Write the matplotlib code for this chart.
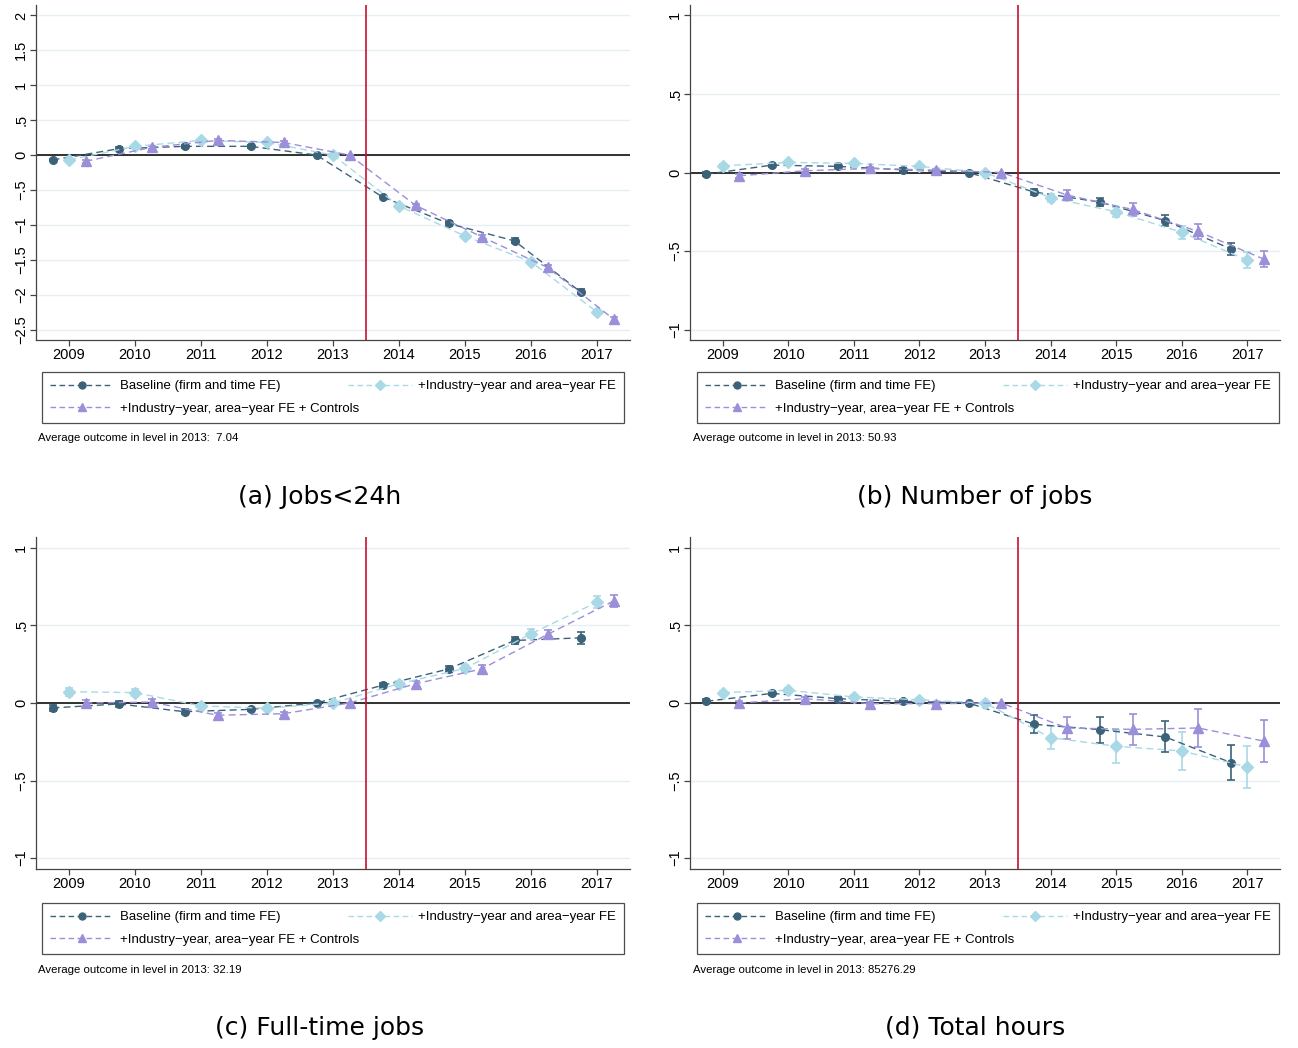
import matplotlib
matplotlib.use('Agg')
import matplotlib.pyplot as plt
from matplotlib.lines import Line2D
import numpy as np

plt.rcParams['font.family'] = ['Liberation Sans', 'DejaVu Sans']

# Años del estudio de eventos (2013 es el año de referencia)
years = [2009, 2010, 2011, 2012, 2013, 2014, 2015, 2016, 2017]

# (a) Jobs<24h
jobs24_base = [-0.07, 0.09, 0.125, 0.125, 0.0, -0.60, -0.98, -1.23, -1.96]
jobs24_base_ci = [0.02, 0.02, 0.02, 0.02, 0.0, 0.02, 0.03, 0.035, 0.035]
jobs24_ind = [-0.07, 0.125, 0.21, 0.18, 0.0, -0.73, -1.16, -1.53, -2.25]
jobs24_ind_ci = [0.02, 0.02, 0.02, 0.02, 0.0, 0.025, 0.03, 0.035, 0.035]
jobs24_ctrl = [-0.09, 0.11, 0.21, 0.18, 0.0, -0.72, -1.17, -1.61, -2.35]
jobs24_ctrl_ci = [0.02, 0.02, 0.02, 0.02, 0.0, 0.025, 0.03, 0.035, 0.035]

# (b) Number of jobs
njobs_base = [-0.011, 0.047, 0.039, 0.017, 0.0, -0.124, -0.188, -0.306, -0.486]
njobs_base_ci = [0.012, 0.01, 0.01, 0.01, 0.0, 0.02, 0.025, 0.035, 0.04]
njobs_ind = [0.043, 0.064, 0.058, 0.039, 0.0, -0.16, -0.25, -0.38, -0.557]
njobs_ind_ci = [0.012, 0.01, 0.01, 0.01, 0.0, 0.025, 0.03, 0.04, 0.05]
njobs_ctrl = [-0.021, 0.011, 0.026, 0.015, 0.0, -0.143, -0.235, -0.375, -0.55]
njobs_ctrl_ci = [0.012, 0.01, 0.01, 0.01, 0.0, 0.03, 0.04, 0.045, 0.05]

# (c) Full-time jobs
ft_base = [-0.032, -0.006, -0.056, -0.041, 0.0, 0.114, 0.219, 0.403, 0.42]
ft_base_ci = [0.02, 0.02, 0.015, 0.01, 0.0, 0.015, 0.02, 0.025, 0.04]
ft_ind = [0.073, 0.067, -0.019, -0.034, 0.0, 0.124, 0.223, 0.446, 0.65]
ft_ind_ci = [0.025, 0.025, 0.015, 0.01, 0.0, 0.015, 0.02, 0.03, 0.04]
ft_ctrl = [0.0, 0.006, -0.079, -0.069, 0.0, 0.124, 0.219, 0.442, 0.657]
ft_ctrl_ci = [0.02, 0.02, 0.015, 0.01, 0.0, 0.02, 0.025, 0.03, 0.04]

# (d) Total hours
hours_base = [0.011, 0.062, 0.028, 0.011, 0.0, -0.137, -0.172, -0.219, -0.384]
hours_base_ci = [0.012, 0.012, 0.012, 0.01, 0.0, 0.058, 0.083, 0.10, 0.113]
hours_ind = [0.067, 0.082, 0.039, 0.021, 0.0, -0.223, -0.279, -0.309, -0.412]
hours_ind_ci = [0.012, 0.012, 0.012, 0.01, 0.0, 0.074, 0.106, 0.123, 0.135]
hours_ctrl = [0.0, 0.028, -0.004, -0.004, 0.0, -0.161, -0.17, -0.161, -0.245]
hours_ctrl_ci = [0.012, 0.012, 0.012, 0.01, 0.0, 0.073, 0.102, 0.12, 0.138]

series_labels = ['Baseline (firm and time FE)',
                 '+Industry\u2212year and area\u2212year FE',
                 '+Industry\u2212year, area\u2212year FE + Controls']
captions = ['(a) Jobs<24h', '(b) Number of jobs', '(c) Full-time jobs', '(d) Total hours']
notes = ['Average outcome in level in 2013:  7.04',
         'Average outcome in level in 2013: 50.93',
         'Average outcome in level in 2013: 32.19',
         'Average outcome in level in 2013: 85276.29']

colores = ['#3c6279', '#a9d9e6', '#9b8fd9']
marcadores = ['o', 'D', '^']
tam_marcador = [5.5, 6, 6.5]
desplazamiento = [-0.25, 0.0, 0.25]

W, H = 1298, 1048


def rect(l, t, r, b):
    # convierte un rectangulo en pixeles a coordenadas de figura
    return [l / W, 1 - b / H, (r - l) / W, (b - t) / H]


def fmt_tick(v):
    # formato tipo Stata: .5, -.5, 1.5 ...
    s = ('%g' % abs(v))
    if s.startswith('0.'):
        s = s[1:]
    if v < 0:
        s = '\u2212' + s
    return s


def dibujar_panel(fig, pos, datos, yticks, ylim, caption, note, legend_box, note_xy, cap_xy):
    ax = fig.add_axes(rect(*pos))
    for yt in yticks:
        ax.axhline(yt, color='#e6eff2', lw=1.0, zorder=0)
    ax.axhline(0, color='#222222', lw=1.3, zorder=1)
    ax.axvline(2013.5, color='#c8102e', lw=1.2, zorder=4)

    x = np.array(years, dtype=float)
    for i, (vals, ci) in enumerate(datos):
        ax.errorbar(x + desplazamiento[i], vals, yerr=ci, color=colores[i], ecolor=colores[i],
                    marker=marcadores[i], markersize=tam_marcador[i],
                    linestyle=(0, (5, 3)), lw=1.0, elinewidth=1.2, capsize=3.2, capthick=1.2,
                    zorder=3)

    ax.set_xlim(2008.5, 2017.5)
    ax.set_ylim(*ylim)
    ax.set_xticks(years)
    ax.set_xticklabels([str(y) for y in years], fontsize=10.5)
    ax.set_yticks(yticks)
    ax.set_yticklabels([fmt_tick(v) for v in yticks], fontsize=10.5, rotation=90, va='center')
    ax.tick_params(axis='both', direction='out', length=4, width=0.9, color='#444444', pad=1.5)
    for lado in ['top', 'right']:
        ax.spines[lado].set_visible(False)
    for lado in ['left', 'bottom']:
        ax.spines[lado].set_color('#444444')
        ax.spines[lado].set_linewidth(0.9)

    # leyenda (orden por columnas para que quede por filas como en Stata)
    handles = [Line2D([], [], color=colores[i], marker=marcadores[i],
                      markersize=tam_marcador[i] - 0.5,
                      linestyle=(0, (4, 2.5)), lw=1.0) for i in range(3)]
    orden = [0, 2, 1]
    l, t, r, b = legend_box
    bb = rect(l, t, r, b)
    leg = ax.legend([handles[k] for k in orden], [series_labels[k] for k in orden],
                    loc='upper left', bbox_to_anchor=bb, bbox_transform=fig.transFigure,
                    mode='expand', ncol=2, fontsize=9.5, frameon=True, fancybox=False,
                    edgecolor='#222222', handlelength=4.8, handletextpad=0.5,
                    labelspacing=0.8, borderaxespad=0, borderpad=0.6, columnspacing=1.0,
                    numpoints=1)
    leg.get_frame().set_linewidth(0.9)

    fig.text(note_xy[0] / W, 1 - note_xy[1] / H, note, fontsize=8.2, va='center', ha='left')
    fig.text(cap_xy[0] / W, 1 - cap_xy[1] / H, caption, fontsize=18, va='center', ha='center',
             family='DejaVu Sans')
    return ax


def main():
    fig = plt.figure(figsize=(W / 100, H / 100), dpi=100)

    ticks_a = [-2.5, -2, -1.5, -1, -0.5, 0, 0.5, 1, 1.5, 2]
    ticks_b = [-1, -0.5, 0, 0.5, 1]

    dibujar_panel(fig, (36, 5, 630, 340),
                  [(jobs24_base, jobs24_base_ci), (jobs24_ind, jobs24_ind_ci),
                   (jobs24_ctrl, jobs24_ctrl_ci)],
                  ticks_a, (-2.65, 2.15), captions[0], notes[0],
                  (42, 372, 624, 425), (38, 438), (320, 497))
    dibujar_panel(fig, (690, 5, 1280, 340),
                  [(njobs_base, njobs_base_ci), (njobs_ind, njobs_ind_ci),
                   (njobs_ctrl, njobs_ctrl_ci)],
                  ticks_b, (-1.065, 1.065), captions[1], notes[1],
                  (697, 372, 1279, 425), (693, 438), (975, 497))
    dibujar_panel(fig, (36, 537, 630, 869),
                  [(ft_base, ft_base_ci), (ft_ind, ft_ind_ci), (ft_ctrl, ft_ctrl_ci)],
                  ticks_b, (-1.07, 1.07), captions[2], notes[2],
                  (42, 903, 624, 956), (38, 970), (320, 1028))
    dibujar_panel(fig, (690, 537, 1280, 869),
                  [(hours_base, hours_base_ci), (hours_ind, hours_ind_ci),
                   (hours_ctrl, hours_ctrl_ci)],
                  ticks_b, (-1.07, 1.07), captions[3], notes[3],
                  (697, 903, 1279, 956), (693, 970), (975, 1028))

    fig.savefig('out.png', dpi=100, facecolor='white')


if __name__ == "__main__":
    main()
